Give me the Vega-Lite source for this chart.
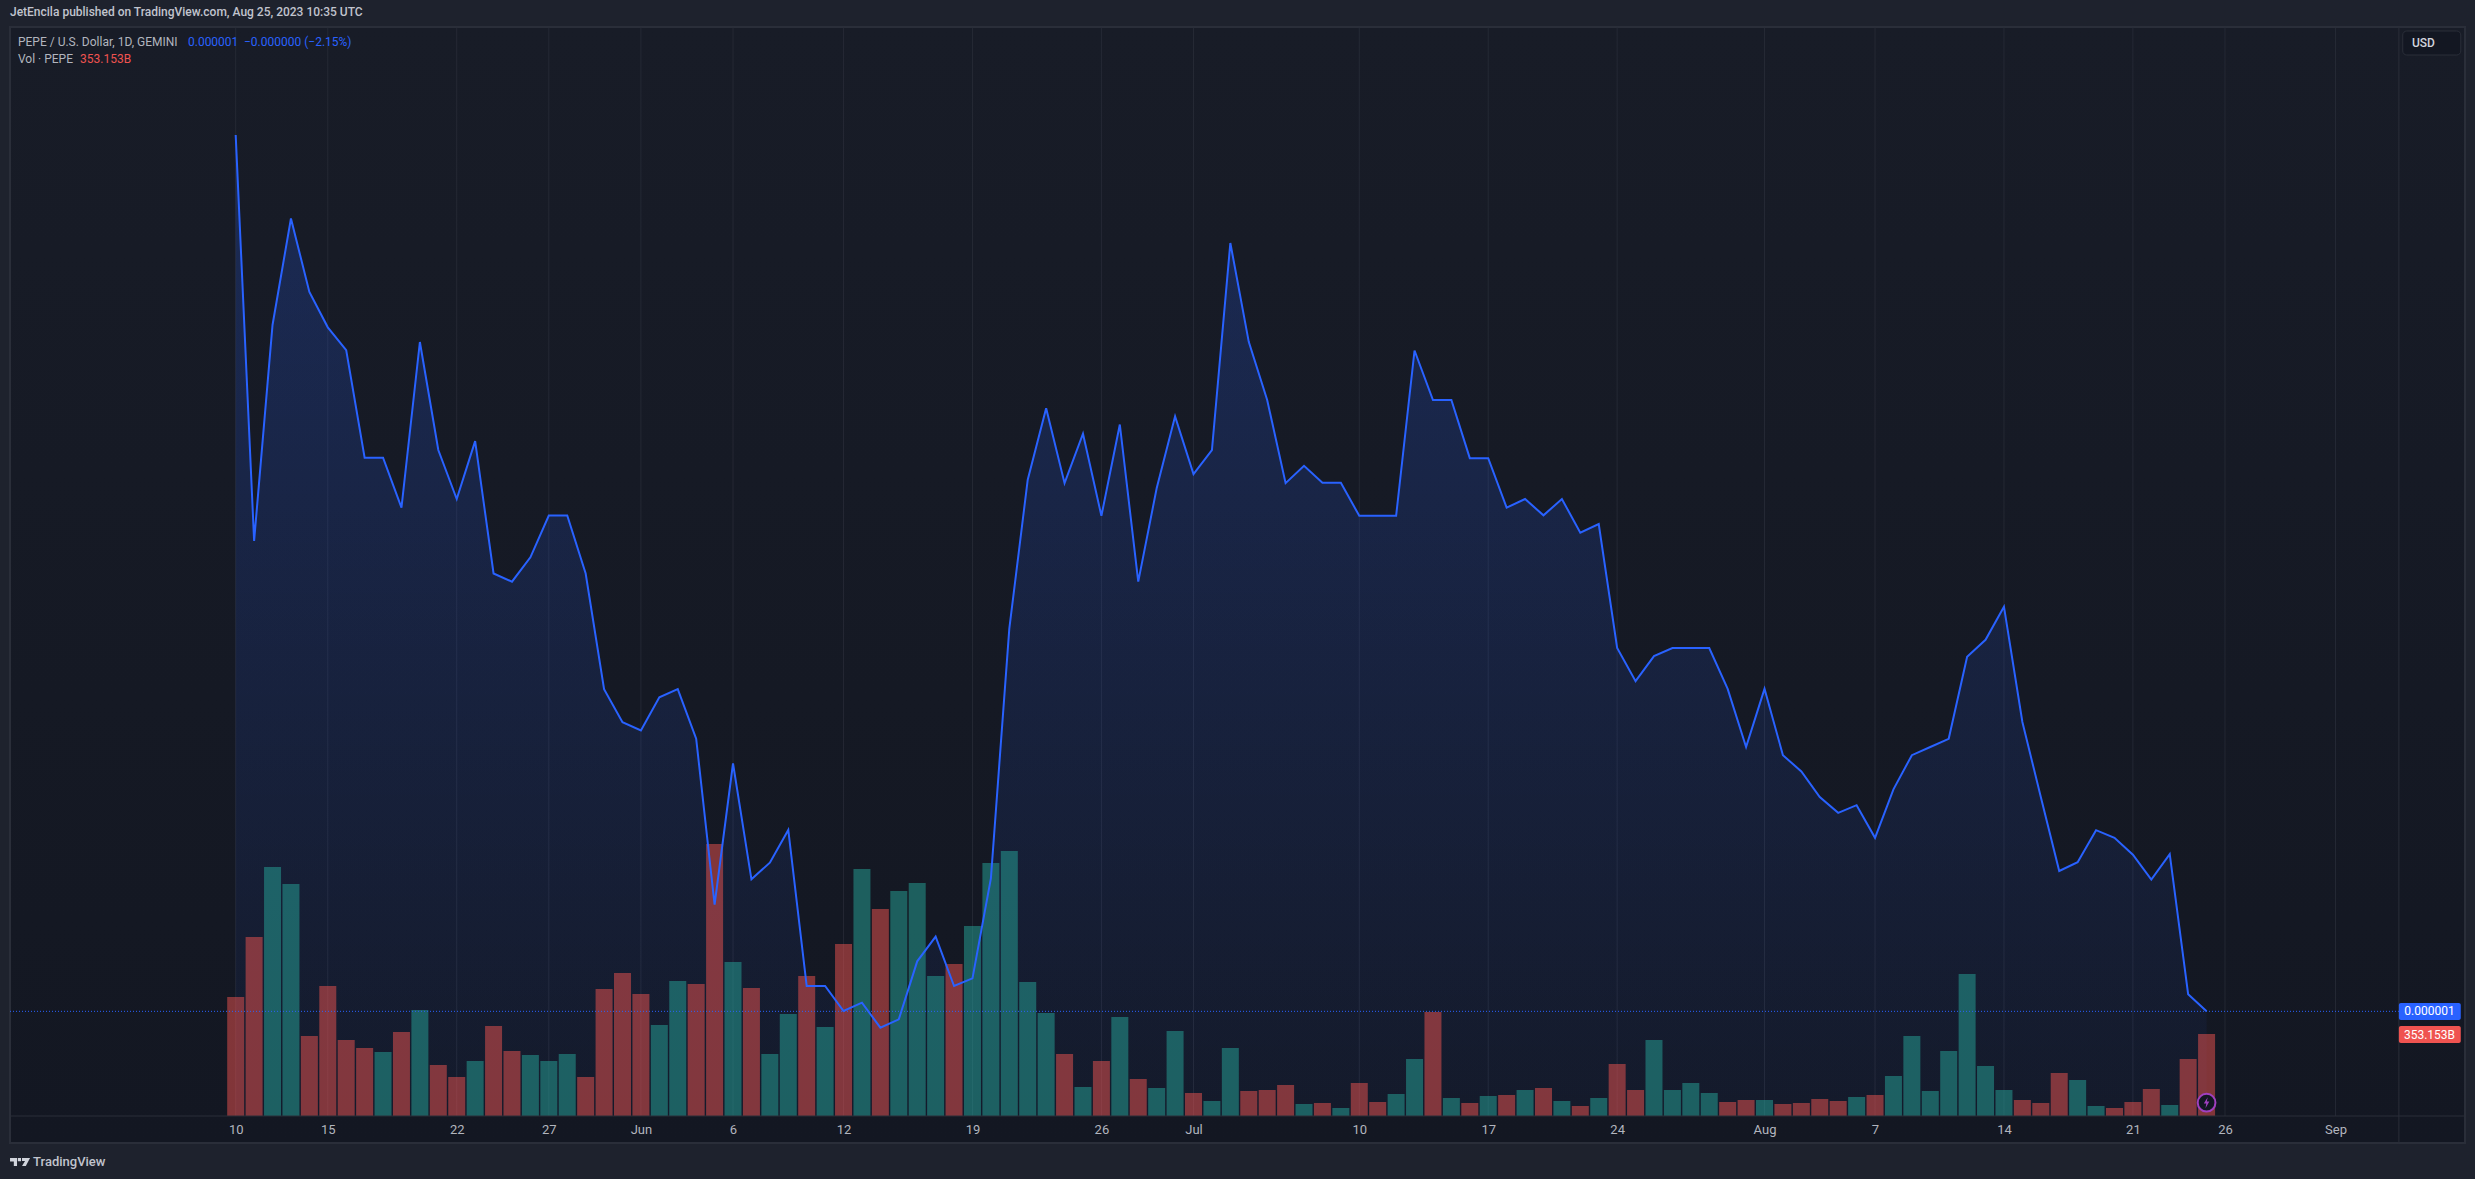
{
  "$schema": "https://vega.github.io/schema/vega-lite/v6.json",
  "autosize": {"type": "none"},
  "width": 2455,
  "height": 1116,
  "padding": {"left": 10, "top": 27, "right": 10, "bottom": 36},
  "background": "#1e222d",
  "view": {
    "stroke": "#2a2e39",
    "strokeWidth": 2,
    "fill": {
      "gradient": "linear", "x1": 0, "y1": 0, "x2": 0, "y2": 1,
      "stops": [{"offset": 0, "color": "#181c27"}, {"offset": 1, "color": "#131722"}]
    }
  },
  "title": {
    "text": "JetEncila published on TradingView.com, Aug 25, 2023 10:35 UTC",
    "anchor": "start",
    "frame": "group",
    "offset": 8,
    "font": "Roboto",
    "fontSize": 12,
    "fontWeight": 500,
    "color": "#c1c4cd"
  },
  "datasets": {
    "ticks": [
      {"date": "2023-05-10"}, {"date": "2023-05-15"}, {"date": "2023-05-22"}, {"date": "2023-05-27"},
      {"date": "2023-06-01"}, {"date": "2023-06-06"}, {"date": "2023-06-12"}, {"date": "2023-06-19"},
      {"date": "2023-06-26"}, {"date": "2023-07-01"}, {"date": "2023-07-10"}, {"date": "2023-07-17"},
      {"date": "2023-07-24"}, {"date": "2023-08-01"}, {"date": "2023-08-07"}, {"date": "2023-08-14"},
      {"date": "2023-08-21"}, {"date": "2023-08-26"}, {"date": "2023-09-01"}
    ],
    "daily": [
      {"date": "2023-05-10", "close": 1525.8, "volume": 512.5, "dir": "down"},
      {"date": "2023-05-11", "close": 1282.3, "volume": 771.0, "dir": "down"},
      {"date": "2023-05-12", "close": 1411.8, "volume": 1072.5, "dir": "up"},
      {"date": "2023-05-13", "close": 1475.7, "volume": 999.2, "dir": "up"},
      {"date": "2023-05-14", "close": 1431.6, "volume": 344.6, "dir": "down"},
      {"date": "2023-05-15", "close": 1410.4, "volume": 559.9, "dir": "down"},
      {"date": "2023-05-16", "close": 1396.7, "volume": 327.3, "dir": "down"},
      {"date": "2023-05-17", "close": 1332.2, "volume": 292.9, "dir": "down"},
      {"date": "2023-05-18", "close": 1332.2, "volume": 275.7, "dir": "up"},
      {"date": "2023-05-19", "close": 1302.2, "volume": 361.8, "dir": "down"},
      {"date": "2023-05-20", "close": 1401.6, "volume": 456.6, "dir": "up"},
      {"date": "2023-05-21", "close": 1336.8, "volume": 219.7, "dir": "down"},
      {"date": "2023-05-22", "close": 1307.4, "volume": 168.0, "dir": "down"},
      {"date": "2023-05-23", "close": 1342.1, "volume": 236.9, "dir": "up"},
      {"date": "2023-05-24", "close": 1262.7, "volume": 387.6, "dir": "down"},
      {"date": "2023-05-25", "close": 1257.8, "volume": 280.0, "dir": "down"},
      {"date": "2023-05-26", "close": 1272.4, "volume": 262.7, "dir": "up"},
      {"date": "2023-05-27", "close": 1297.5, "volume": 236.9, "dir": "up"},
      {"date": "2023-05-28", "close": 1297.5, "volume": 267.0, "dir": "up"},
      {"date": "2023-05-29", "close": 1262.7, "volume": 168.0, "dir": "down"},
      {"date": "2023-05-30", "close": 1193.3, "volume": 547.0, "dir": "down"},
      {"date": "2023-05-31", "close": 1173.5, "volume": 615.9, "dir": "down"},
      {"date": "2023-06-01", "close": 1168.5, "volume": 525.5, "dir": "down"},
      {"date": "2023-06-02", "close": 1188.4, "volume": 391.9, "dir": "up"},
      {"date": "2023-06-03", "close": 1193.3, "volume": 581.5, "dir": "up"},
      {"date": "2023-06-04", "close": 1163.6, "volume": 568.5, "dir": "down"},
      {"date": "2023-06-05", "close": 1064.0, "volume": 1171.5, "dir": "down"},
      {"date": "2023-06-06", "close": 1148.7, "volume": 663.3, "dir": "up"},
      {"date": "2023-06-07", "close": 1079.2, "volume": 551.3, "dir": "down"},
      {"date": "2023-06-08", "close": 1089.2, "volume": 267.0, "dir": "up"},
      {"date": "2023-06-09", "close": 1108.8, "volume": 439.3, "dir": "up"},
      {"date": "2023-06-10", "close": 1015.2, "volume": 603.0, "dir": "down"},
      {"date": "2023-06-11", "close": 1015.2, "volume": 383.3, "dir": "up"},
      {"date": "2023-06-12", "close": 1000.2, "volume": 740.8, "dir": "down"},
      {"date": "2023-06-13", "close": 1005.2, "volume": 1063.9, "dir": "up"},
      {"date": "2023-06-14", "close": 990.2, "volume": 891.6, "dir": "down"},
      {"date": "2023-06-15", "close": 995.2, "volume": 969.1, "dir": "up"},
      {"date": "2023-06-16", "close": 1030.0, "volume": 1003.6, "dir": "up"},
      {"date": "2023-06-17", "close": 1044.8, "volume": 603.0, "dir": "up"},
      {"date": "2023-06-18", "close": 1015.2, "volume": 654.7, "dir": "down"},
      {"date": "2023-06-19", "close": 1019.8, "volume": 818.3, "dir": "up"},
      {"date": "2023-06-20", "close": 1079.8, "volume": 1089.7, "dir": "up"},
      {"date": "2023-06-21", "close": 1229.6, "volume": 1141.4, "dir": "up"},
      {"date": "2023-06-22", "close": 1319.0, "volume": 577.2, "dir": "up"},
      {"date": "2023-06-23", "close": 1361.9, "volume": 443.6, "dir": "up"},
      {"date": "2023-06-24", "close": 1316.9, "volume": 267.0, "dir": "down"},
      {"date": "2023-06-25", "close": 1346.6, "volume": 124.9, "dir": "up"},
      {"date": "2023-06-26", "close": 1297.3, "volume": 236.9, "dir": "down"},
      {"date": "2023-06-27", "close": 1352.1, "volume": 426.4, "dir": "up"},
      {"date": "2023-06-28", "close": 1257.8, "volume": 159.4, "dir": "down"},
      {"date": "2023-06-29", "close": 1313.8, "volume": 120.6, "dir": "up"},
      {"date": "2023-06-30", "close": 1357.0, "volume": 366.1, "dir": "up"},
      {"date": "2023-07-01", "close": 1322.4, "volume": 99.1, "dir": "down"},
      {"date": "2023-07-02", "close": 1336.8, "volume": 64.6, "dir": "up"},
      {"date": "2023-07-03", "close": 1461.0, "volume": 292.9, "dir": "up"},
      {"date": "2023-07-04", "close": 1401.7, "volume": 107.7, "dir": "down"},
      {"date": "2023-07-05", "close": 1366.8, "volume": 112.0, "dir": "down"},
      {"date": "2023-07-06", "close": 1316.9, "volume": 133.5, "dir": "down"},
      {"date": "2023-07-07", "close": 1327.3, "volume": 51.7, "dir": "up"},
      {"date": "2023-07-08", "close": 1317.2, "volume": 56.0, "dir": "down"},
      {"date": "2023-07-09", "close": 1317.2, "volume": 34.5, "dir": "up"},
      {"date": "2023-07-10", "close": 1297.3, "volume": 142.1, "dir": "down"},
      {"date": "2023-07-11", "close": 1297.3, "volume": 60.3, "dir": "down"},
      {"date": "2023-07-12", "close": 1297.3, "volume": 94.8, "dir": "up"},
      {"date": "2023-07-13", "close": 1396.5, "volume": 245.5, "dir": "up"},
      {"date": "2023-07-14", "close": 1366.8, "volume": 447.9, "dir": "down"},
      {"date": "2023-07-15", "close": 1366.8, "volume": 77.5, "dir": "up"},
      {"date": "2023-07-16", "close": 1331.9, "volume": 56.0, "dir": "down"},
      {"date": "2023-07-17", "close": 1331.9, "volume": 86.1, "dir": "up"},
      {"date": "2023-07-18", "close": 1302.2, "volume": 90.4, "dir": "down"},
      {"date": "2023-07-19", "close": 1307.4, "volume": 112.0, "dir": "up"},
      {"date": "2023-07-20", "close": 1297.6, "volume": 120.6, "dir": "down"},
      {"date": "2023-07-21", "close": 1307.4, "volume": 64.6, "dir": "up"},
      {"date": "2023-07-22", "close": 1287.2, "volume": 43.1, "dir": "down"},
      {"date": "2023-07-23", "close": 1292.4, "volume": 77.5, "dir": "up"},
      {"date": "2023-07-24", "close": 1218.0, "volume": 224.0, "dir": "down"},
      {"date": "2023-07-25", "close": 1198.1, "volume": 112.0, "dir": "down"},
      {"date": "2023-07-26", "close": 1213.1, "volume": 327.3, "dir": "up"},
      {"date": "2023-07-27", "close": 1218.0, "volume": 112.0, "dir": "up"},
      {"date": "2023-07-28", "close": 1218.0, "volume": 142.1, "dir": "up"},
      {"date": "2023-07-29", "close": 1218.0, "volume": 99.1, "dir": "up"},
      {"date": "2023-07-30", "close": 1193.5, "volume": 60.3, "dir": "down"},
      {"date": "2023-07-31", "close": 1158.6, "volume": 68.9, "dir": "down"},
      {"date": "2023-08-01", "close": 1193.5, "volume": 68.9, "dir": "up"},
      {"date": "2023-08-02", "close": 1153.7, "volume": 51.7, "dir": "down"},
      {"date": "2023-08-03", "close": 1143.9, "volume": 56.0, "dir": "down"},
      {"date": "2023-08-04", "close": 1128.6, "volume": 73.2, "dir": "down"},
      {"date": "2023-08-05", "close": 1119.1, "volume": 64.6, "dir": "down"},
      {"date": "2023-08-06", "close": 1123.7, "volume": 81.8, "dir": "up"},
      {"date": "2023-08-07", "close": 1104.1, "volume": 90.4, "dir": "down"},
      {"date": "2023-08-08", "close": 1133.2, "volume": 172.3, "dir": "up"},
      {"date": "2023-08-09", "close": 1153.7, "volume": 344.6, "dir": "up"},
      {"date": "2023-08-10", "close": 1158.6, "volume": 107.7, "dir": "up"},
      {"date": "2023-08-11", "close": 1163.5, "volume": 280.0, "dir": "up"},
      {"date": "2023-08-12", "close": 1212.8, "volume": 611.6, "dir": "up"},
      {"date": "2023-08-13", "close": 1222.9, "volume": 215.4, "dir": "up"},
      {"date": "2023-08-14", "close": 1242.8, "volume": 112.0, "dir": "up"},
      {"date": "2023-08-15", "close": 1173.6, "volume": 68.9, "dir": "down"},
      {"date": "2023-08-16", "close": 1128.6, "volume": 56.0, "dir": "down"},
      {"date": "2023-08-17", "close": 1084.2, "volume": 185.2, "dir": "down"},
      {"date": "2023-08-18", "close": 1089.5, "volume": 155.1, "dir": "up"},
      {"date": "2023-08-19", "close": 1108.7, "volume": 43.1, "dir": "up"},
      {"date": "2023-08-20", "close": 1104.1, "volume": 34.5, "dir": "down"},
      {"date": "2023-08-21", "close": 1094.0, "volume": 60.3, "dir": "down"},
      {"date": "2023-08-22", "close": 1079.0, "volume": 116.3, "dir": "down"},
      {"date": "2023-08-23", "close": 1094.3, "volume": 47.4, "dir": "up"},
      {"date": "2023-08-24", "close": 1010.2, "volume": 245.5, "dir": "down"},
      {"date": "2023-08-25", "close": 1000.0, "volume": 353.2, "dir": "down"}
    ]
  },
  "resolve": {"scale": {"y": "independent"}},
  "layer": [
    {
      "layer": [
        {
          "data": {"name": "ticks"},
          "mark": {"type": "rule", "color": "#2a2e39", "strokeWidth": 1, "opacity": 0.75},
          "encoding": {
            "x": {
              "field": "date",
              "type": "temporal",
              "title": null,
              "scale": {"type": "utc", "nice": false, "padding": 0, "domain": [{"year": 2023, "month": 4, "date": 27, "hours": 17, "minutes": 56, "utc": true}, {"year": 2023, "month": 9, "date": 8, "hours": 0, "minutes": 43, "utc": true}]},
              "axis": {
                "orient": "bottom",
                "offset": -27,
                "values": [
                  {"year": 2023, "month": 5, "date": 10, "utc": true}, {"year": 2023, "month": 5, "date": 15, "utc": true},
                  {"year": 2023, "month": 5, "date": 22, "utc": true}, {"year": 2023, "month": 5, "date": 27, "utc": true},
                  {"year": 2023, "month": 6, "date": 1, "utc": true}, {"year": 2023, "month": 6, "date": 6, "utc": true},
                  {"year": 2023, "month": 6, "date": 12, "utc": true}, {"year": 2023, "month": 6, "date": 19, "utc": true},
                  {"year": 2023, "month": 6, "date": 26, "utc": true}, {"year": 2023, "month": 7, "date": 1, "utc": true},
                  {"year": 2023, "month": 7, "date": 10, "utc": true}, {"year": 2023, "month": 7, "date": 17, "utc": true},
                  {"year": 2023, "month": 7, "date": 24, "utc": true}, {"year": 2023, "month": 8, "date": 1, "utc": true},
                  {"year": 2023, "month": 8, "date": 7, "utc": true}, {"year": 2023, "month": 8, "date": 14, "utc": true},
                  {"year": 2023, "month": 8, "date": 21, "utc": true}, {"year": 2023, "month": 8, "date": 26, "utc": true},
                  {"year": 2023, "month": 9, "date": 1, "utc": true}
                ],
                "labelExpr": "utcdate(datum.value) == 1 ? utcFormat(datum.value, '%b') : utcdate(datum.value)",
                "labelFont": "Roboto",
                "labelFontSize": 13,
                "labelColor": "#b2b5be",
                "labelPadding": 7,
                "labelOverlap": false,
                "labelFlush": false,
                "labelBound": false,
                "domain": false,
                "ticks": false,
                "grid": false
              }
            },
            "y": {"datum": 937.2, "type": "quantitative", "axis": null, "scale": {"nice": false, "domain": [921, 1590.6]}},
            "y2": {"datum": 1590.6}
          }
        },
        {
          "data": {"name": "daily"},
          "mark": {
            "type": "area",
            "fill": {
              "gradient": "linear", "x1": 0, "y1": 0, "x2": 0, "y2": 1,
              "stops": [
                {"offset": 0, "color": "rgba(41,98,255,0.22)"},
                {"offset": 1, "color": "rgba(41,98,255,0.04)"}
              ]
            }
          },
          "encoding": {
            "x": {"field": "date", "type": "temporal"},
            "y": {"field": "close", "type": "quantitative", "axis": null, "scale": {"nice": false, "domain": [921, 1590.6]}},
            "y2": {"datum": 937.2}
          }
        }
      ]
    },
    {
      "data": {"name": "daily"},
      "mark": {"type": "bar", "size": 17, "opacity": 0.5},
      "encoding": {
        "x": {"field": "date", "type": "temporal"},
        "y": {"field": "volume", "type": "quantitative", "axis": null, "stack": null, "scale": {"nice": false, "domain": [-116.3, 4690]}},
        "color": {
          "field": "dir",
          "type": "nominal",
          "legend": null,
          "scale": {"domain": ["up", "down"], "range": ["#26a69a", "#ef5350"]}
        }
      }
    },
    {
      "layer": [
        {
          "data": {"name": "daily"},
          "mark": {"type": "line", "color": "#2962ff", "strokeWidth": 2},
          "encoding": {
            "x": {"field": "date", "type": "temporal"},
            "y": {"field": "close", "type": "quantitative", "axis": null, "scale": {"nice": false, "domain": [921, 1590.6]}}
          }
        },
        {
          "data": {"values": [{}]},
          "layer": [
            {
              "mark": {"type": "rule", "color": "#2a2e39", "strokeWidth": 1},
              "encoding": {
                "x": {"datum": {"year": 2023, "month": 4, "date": 27, "hours": 17, "minutes": 56, "utc": true}, "type": "temporal"},
                "x2": {"datum": {"year": 2023, "month": 9, "date": 8, "hours": 0, "minutes": 43, "utc": true}},
                "y": {"datum": 937.2, "type": "quantitative", "axis": null, "scale": {"nice": false, "domain": [921, 1590.6]}}
              }
            },
            {
              "mark": {"type": "rule", "color": "#2a2e39", "strokeWidth": 1},
              "encoding": {
                "x": {"datum": {"year": 2023, "month": 9, "date": 4, "hours": 10, "minutes": 34, "utc": true}, "type": "temporal"},
                "y": {"datum": 921, "type": "quantitative", "axis": null, "scale": {"nice": false, "domain": [921, 1590.6]}},
                "y2": {"datum": 1590.6}
              }
            },
            {
              "mark": {"type": "rule", "color": "#2962ff", "strokeWidth": 1, "strokeDash": [1, 2]},
              "encoding": {
                "x": {"datum": {"year": 2023, "month": 4, "date": 27, "hours": 17, "minutes": 56, "utc": true}, "type": "temporal"},
                "x2": {"datum": {"year": 2023, "month": 9, "date": 4, "hours": 10, "minutes": 34, "utc": true}},
                "y": {"datum": 1000, "type": "quantitative", "axis": null, "scale": {"nice": false, "domain": [921, 1590.6]}}
              }
            },
            {
              "mark": {"type": "rect", "color": "#2962ff", "cornerRadius": 2},
              "encoding": {
                "x": {"datum": {"year": 2023, "month": 9, "date": 4, "hours": 10, "minutes": 34, "utc": true}, "type": "temporal"},
                "x2": {"datum": {"year": 2023, "month": 9, "date": 7, "hours": 19, "minutes": 12, "utc": true}},
                "y": {"datum": 1005, "type": "quantitative", "axis": null, "scale": {"nice": false, "domain": [921, 1590.6]}},
                "y2": {"datum": 994.8}
              }
            },
            {
              "mark": {"type": "rect", "color": "#ef5350", "cornerRadius": 2},
              "encoding": {
                "x": {"datum": {"year": 2023, "month": 9, "date": 4, "hours": 10, "minutes": 34, "utc": true}, "type": "temporal"},
                "x2": {"datum": {"year": 2023, "month": 9, "date": 7, "hours": 19, "minutes": 12, "utc": true}},
                "y": {"datum": 991.2, "type": "quantitative", "axis": null, "scale": {"nice": false, "domain": [921, 1590.6]}},
                "y2": {"datum": 981}
              }
            },
            {
              "mark": {"type": "rect", "fill": "#131722", "stroke": "#2a2e39", "strokeWidth": 1, "cornerRadius": 4},
              "encoding": {
                "x": {"datum": {"year": 2023, "month": 9, "date": 4, "hours": 15, "minutes": 36, "utc": true}, "type": "temporal"},
                "x2": {"datum": {"year": 2023, "month": 9, "date": 7, "hours": 19, "minutes": 12, "utc": true}},
                "y": {"datum": 1588.2, "type": "quantitative", "axis": null, "scale": {"nice": false, "domain": [921, 1590.6]}},
                "y2": {"datum": 1573.8}
              }
            },
            {
              "mark": {"type": "point", "filled": true, "fill": "#131722", "stroke": "#a040c0", "strokeWidth": 2, "size": 314, "shape": "circle", "opacity": 1},
              "encoding": {
                "x": {"datum": {"year": 2023, "month": 8, "date": 25, "utc": true}, "type": "temporal"},
                "y": {"datum": 945.2, "type": "quantitative", "axis": null, "scale": {"nice": false, "domain": [921, 1590.6]}}
              }
            },
            {
              "mark": {"type": "point", "filled": true, "fill": "#a040c0", "strokeWidth": 0, "size": 120, "opacity": 1, "shape": "M0.2,-1L-0.5,0.15H-0.05L-0.2,1L0.5,-0.2H0.05Z"},
              "encoding": {
                "x": {"datum": {"year": 2023, "month": 8, "date": 25, "utc": true}, "type": "temporal"},
                "y": {"datum": 945.2, "type": "quantitative", "axis": null, "scale": {"nice": false, "domain": [921, 1590.6]}}
              }
            },
            {
              "mark": {"type": "point", "filled": true, "fill": "#d1d4dc", "strokeWidth": 0, "size": 400, "opacity": 1, "shape": "M-1,-0.4H-0.3V0.4H-0.62V-0.05H-1ZM-0.22,-0.4H0.1V-0.08H-0.22ZM0.2,-0.4H1L0.58,0.4H0.2L0.5,-0.1H0.2Z"},
              "encoding": {
                "x": {"datum": {"year": 2023, "month": 4, "date": 28, "hours": 7, "utc": true}, "type": "temporal"},
                "y": {"datum": 909.6, "type": "quantitative", "axis": null, "scale": {"nice": false, "domain": [921, 1590.6]}}
              }
            },
            {
              "mark": {"type": "text", "align": "left", "baseline": "middle", "font": "Roboto", "fontSize": 12, "color": "#b2b5be", "text": "PEPE / U.S. Dollar, 1D, GEMINI"},
              "encoding": {
                "x": {"datum": {"year": 2023, "month": 4, "date": 28, "hours": 4, "minutes": 19, "utc": true}, "type": "temporal"},
                "y": {"datum": 1581.6, "type": "quantitative", "axis": null, "scale": {"nice": false, "domain": [921, 1590.6]}}
              }
            },
            {
              "mark": {"type": "text", "align": "left", "baseline": "middle", "font": "Roboto", "fontSize": 12, "color": "#2962ff", "text": "0.000001"},
              "encoding": {
                "x": {"datum": {"year": 2023, "month": 5, "date": 7, "hours": 9, "minutes": 50, "utc": true}, "type": "temporal"},
                "y": {"datum": 1581.6, "type": "quantitative", "axis": null, "scale": {"nice": false, "domain": [921, 1590.6]}}
              }
            },
            {
              "mark": {"type": "text", "align": "left", "baseline": "middle", "font": "Roboto", "fontSize": 12, "color": "#2962ff", "text": "−0.000000 (−2.15%)"},
              "encoding": {
                "x": {"datum": {"year": 2023, "month": 5, "date": 10, "hours": 10, "minutes": 50, "utc": true}, "type": "temporal"},
                "y": {"datum": 1581.6, "type": "quantitative", "axis": null, "scale": {"nice": false, "domain": [921, 1590.6]}}
              }
            },
            {
              "mark": {"type": "text", "align": "left", "baseline": "middle", "font": "Roboto", "fontSize": 12, "color": "#b2b5be", "text": "Vol · PEPE"},
              "encoding": {
                "x": {"datum": {"year": 2023, "month": 4, "date": 28, "hours": 4, "minutes": 19, "utc": true}, "type": "temporal"},
                "y": {"datum": 1571.4, "type": "quantitative", "axis": null, "scale": {"nice": false, "domain": [921, 1590.6]}}
              }
            },
            {
              "mark": {"type": "text", "align": "left", "baseline": "middle", "font": "Roboto", "fontSize": 12, "color": "#ef5350", "text": "353.153B"},
              "encoding": {
                "x": {"datum": {"year": 2023, "month": 5, "date": 1, "hours": 13, "minutes": 12, "utc": true}, "type": "temporal"},
                "y": {"datum": 1571.4, "type": "quantitative", "axis": null, "scale": {"nice": false, "domain": [921, 1590.6]}}
              }
            },
            {
              "mark": {"type": "text", "align": "left", "baseline": "middle", "font": "Roboto", "fontSize": 12, "fontWeight": 500, "color": "#d1d4dc", "text": "USD"},
              "encoding": {
                "x": {"datum": {"year": 2023, "month": 9, "date": 5, "hours": 3, "minutes": 36, "utc": true}, "type": "temporal"},
                "y": {"datum": 1581, "type": "quantitative", "axis": null, "scale": {"nice": false, "domain": [921, 1590.6]}}
              }
            },
            {
              "mark": {"type": "text", "align": "center", "baseline": "middle", "font": "Roboto", "fontSize": 12, "color": "#ffffff", "text": "0.000001"},
              "encoding": {
                "x": {"datum": {"year": 2023, "month": 9, "date": 6, "hours": 2, "minutes": 24, "utc": true}, "type": "temporal"},
                "y": {"datum": 1000, "type": "quantitative", "axis": null, "scale": {"nice": false, "domain": [921, 1590.6]}}
              }
            },
            {
              "mark": {"type": "text", "align": "center", "baseline": "middle", "font": "Roboto", "fontSize": 12, "color": "#ffffff", "text": "353.153B"},
              "encoding": {
                "x": {"datum": {"year": 2023, "month": 9, "date": 6, "hours": 2, "minutes": 24, "utc": true}, "type": "temporal"},
                "y": {"datum": 986.1, "type": "quantitative", "axis": null, "scale": {"nice": false, "domain": [921, 1590.6]}}
              }
            },
            {
              "mark": {"type": "text", "align": "left", "baseline": "middle", "font": "Roboto", "fontSize": 13, "fontWeight": 500, "color": "#c1c4cd", "text": "TradingView"},
              "encoding": {
                "x": {"datum": {"year": 2023, "month": 4, "date": 29, "utc": true}, "type": "temporal"},
                "y": {"datum": 909.6, "type": "quantitative", "axis": null, "scale": {"nice": false, "domain": [921, 1590.6]}}
              }
            }
          ]
        }
      ]
    }
  ]
}
